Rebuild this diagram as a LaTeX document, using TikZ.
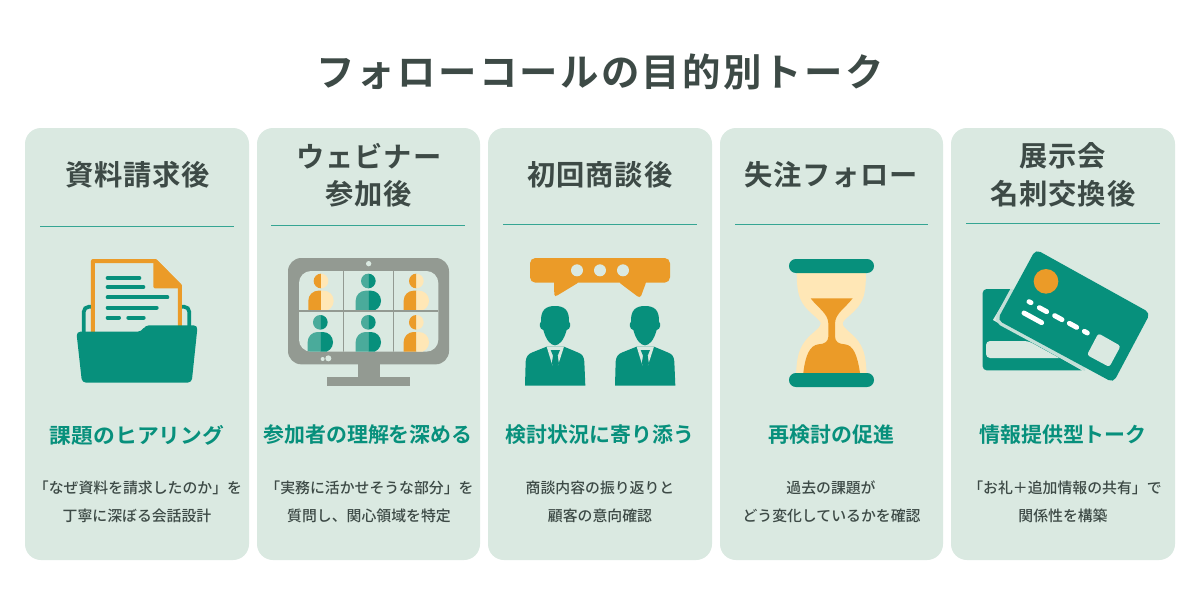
\documentclass[tikz,border=0pt]{standalone}
\usepackage{fontspec}
\newfontfamily\ttlfont[LetterSpace=6]{Noto Sans CJK JP Bold}
\newfontfamily\hdfont[LetterSpace=3]{Noto Sans CJK JP Bold}
\newfontfamily\subfont{Noto Sans CJK JP Bold}
\newfontfamily\bodyfont{Noto Sans CJK JP Medium}
\definecolor{bgcard}{HTML}{DAE9E1}
\definecolor{teal}{HTML}{07907C}
\definecolor{tealL}{HTML}{4AAB9B}
\definecolor{org}{HTML}{EB9B28}
\definecolor{crm}{HTML}{FFE7B6}
\definecolor{gry}{HTML}{939A92}
\definecolor{ink}{HTML}{3D4A46}
\definecolor{edge}{HTML}{C3E0D8}
\definecolor{rulec}{HTML}{35A593}
\tikzset{
  cardbox/.style={fill=bgcard,draw=none,rounded corners=12pt},
  rule/.style={draw=rulec,line width=.75pt},
  ttl/.style={text=ink,font=\ttlfont\fontsize{28.8}{32}\selectfont,anchor=center,inner sep=0},
  hd/.style={text=ink,font=\hdfont\fontsize{21.2}{28}\selectfont,anchor=center,align=center,inner sep=0},
  sub/.style={text=teal,font=\subfont\fontsize{15.7}{20}\selectfont,anchor=center,inner sep=0},
  bd/.style={text=ink,font=\bodyfont\fontsize{11.15}{15}\selectfont,anchor=center,inner sep=0},
  tl/.style={draw=teal,line width=3pt,line cap=round},
  cardash/.style={draw=white,line width=3.7pt,line cap=round},
}
\newcommand{\person}[5]{%
  \begin{scope}
   \clip (#1-60,#2-40) rectangle (#1,#3+61);
   \fill[#4] (#1,#2) circle[radius=22];
   \fill[#4] (#1-38,#3+61) [rounded corners=7.5pt] -- (#1-38,#3) -- (#1+38,#3) [sharp corners] -- (#1+38,#3+61) -- cycle;
  \end{scope}
  \begin{scope}
   \clip (#1,#2-40) rectangle (#1+60,#3+61);
   \fill[#5] (#1,#2) circle[radius=22];
   \fill[#5] (#1-38,#3+61) -- (#1-38,#3) [rounded corners=7.5pt] -- (#1+38,#3) -- (#1+38,#3+61) [sharp corners] -- cycle;
  \end{scope}
}
\newcommand{\suitshape}{%
  \fill[teal] (135,198) .. controls (105,198) and (92,212) .. (93,245)
     .. controls (87,250) and (88,268) .. (100,270)
     .. controls (108,300) and (122,316) .. (135,316)
     .. controls (148,316) and (162,300) .. (170,270)
     .. controls (182,268) and (183,250) .. (177,245)
     .. controls (178,212) and (165,198) .. (135,198) -- cycle;
  \fill[teal] (45,437) -- (47,365) .. controls (48,350) and (55,342) .. (65,338) -- (110,320) -- (162,320) -- (205,338) .. controls (216,342) and (222,350) .. (223,365) -- (226,437) -- cycle;
  \fill[bgcard] (110,320) -- (127,376) -- (135,360) -- (144,376) -- (162,320) -- cycle;
  \fill[teal] (122,330) -- (150,330) -- (143,347) -- (147,372) -- (136,380) -- (125,372) -- (129,347) -- cycle;
}
\begin{document}
\begin{tikzpicture}[x=.75pt,y=-.75pt]
\useasboundingbox (0,0) rectangle (1200,607);
\fill[white] (0,0) rectangle (1200,607);
\node[ttl] (title) at (600,72) {フォローコールの目的別トーク};
% cards
\fill[cardbox] (25,128) rectangle (249,560);
\fill[cardbox] (257,128) rectangle (480,560);
\fill[cardbox] (488,128) rectangle (712,560);
\fill[cardbox] (720,128) rectangle (943,560);
\fill[cardbox] (951,128) rectangle (1175,560);
% rules
\coordinate (r1a) at (40,226); \coordinate (r1b) at (234,226);
\coordinate (r2a) at (271,225.5); \coordinate (r2b) at (465,225.5);
\coordinate (r3a) at (503,224.5); \coordinate (r3b) at (697,224.5);
\coordinate (r4a) at (735,224); \coordinate (r4b) at (928,224);
\coordinate (r5a) at (966,223.5); \coordinate (r5b) at (1160,223.5);
\draw[rule] (r1a) -- (r1b); \draw[rule] (r2a) -- (r2b); \draw[rule] (r3a) -- (r3b); \draw[rule] (r4a) -- (r4b); \draw[rule] (r5a) -- (r5b);
% headings
\node[hd] (h1) at (137.5,175) {資料請求後};
\node[hd] (h2) at (369,175) {ウェビナー\\参加後};
\node[hd] (h3) at (600,175) {初回商談後};
\node[hd] (h4) at (831,175) {失注フォロー};
\node[hd] (h5) at (1063,175) {展示会\\名刺交換後};
% subs
\node[sub,xscale=1.04] (s1) at (137,435) {課題のヒアリング};
\node[sub] (s2) at (368,435) {参加者の理解を深める};
\node[sub] (s3) at (600,435) {検討状況に寄り添う};
\node[sub] (s4) at (831.5,435) {再検討の促進};
\node[sub] (s5) at (1063,435) {情報提供型トーク};
% body
\node[bd] (b1a) at (138,488) {「なぜ資料を請求したのか」を};
\node[bd] (b1b) at (137,516) {丁寧に深ぼる会話設計};
\node[bd] (b2a) at (369.5,488) {「実務に活かせそうな部分」を};
\node[bd] (b2b) at (369,516) {質問し、関心領域を特定};
\node[bd] (b3a) at (600,488) {商談内容の振り返りと};
\node[bd] (b3b) at (600,516) {顧客の意向確認};
\node[bd] (b4a) at (831,488) {過去の課題が};
\node[bd] (b4b) at (831.5,516) {どう変化しているかを確認};
\node[bd] (b5a) at (1065,488) {「お礼＋追加情報の共有」で};
\node[bd] (b5b) at (1063,516) {関係性を構築};
% folder
\begin{scope}[shift={(30,240)},scale=1/3]
 \draw[teal,line width=2.8pt,rounded corners=4pt] (161,285) -- (161,200) -- (478,200) -- (478,285);
 \fill[bgcard] (189,63) -- (376,63) -- (450,138) -- (450,280) -- (189,280) -- cycle;
 \draw[org,line width=3pt,line join=round] (189,280) -- (189,63) -- (376,63) -- (450,138) -- (450,262);
 \fill[org,rounded corners=1pt] (370,60) -- (370,145) -- (456,145) -- (456,135) -- (378,57) -- cycle;
 \draw[tl] (233,114) -- (328,114);
 \draw[tl] (233,141) -- (340,141);
 \draw[tl] (233,172) -- (412,172);
 \draw[tl] (233,203) -- (380,203);
 \draw[tl] (233,233) -- (267,233);
 \draw[tl] (295,233) -- (341,233);
 \fill[teal,rounded corners=3pt] (139,275) -- (335,275) -- (345,256) -- (503,256) -- (485,428) -- (156,428) -- cycle;
\end{scope}
% monitor
\begin{scope}[shift={(270,240)},scale=1/3]
 \fill[gry] (263,370) rectangle (329,412);
 \fill[gry] (171,411) rectangle (420,438);
 \fill[gry,rounded corners=10pt] (54,54) rectangle (537,373);
 \fill[bgcard,rounded corners=9pt] (87,93) rectangle (505,335);
 \begin{scope}
  \clip[rounded corners=9pt] (87,93) rectangle (505,335);
  \person{153}{123}{152}{org}{crm}
  \person{295}{123}{152}{tealL}{teal}
  \person{439}{123}{152}{org}{crm}
  \person{151}{247}{276}{tealL}{teal}
  \person{295}{247}{276}{tealL}{teal}
  \person{439}{247}{276}{org}{crm}
  \draw[gry,line width=.9pt] (221,93) -- (221,335) (371,93) -- (371,335) (87,213) -- (505,213);
 \end{scope}
 \fill[bgcard] (296,71) circle[radius=8];
 \fill[bgcard] (158,357) circle[radius=6];
 \fill[bgcard] (175,355) circle[radius=9];
\end{scope}
% talk
\begin{scope}[shift={(510,240)},scale=1/3]
 \fill[org,rounded corners=4pt] (60,54) rectangle (480,128);
 \fill[org,rounded corners=1pt] (132,120) -- (133,168) -- (139,168) -- (205,128) -- (205,120) -- cycle;
 \fill[org,rounded corners=1pt] (328,120) -- (328,128) -- (385,171) -- (392,171) -- (408,128) -- (408,120) -- cycle;
 \fill[bgcard] (201,91) circle[radius=18] (270,91) circle[radius=18] (339,91) circle[radius=18];
 \suitshape
\end{scope}
\begin{scope}[shift={(600,240)},scale=1/3]
 \suitshape
\end{scope}
% hourglass
\begin{scope}[shift={(770,240)},scale=1/3]
 \fill[crm] (80,90) -- (288,90) .. controls (288,170) and (280,190) .. (240,225) .. controls (225,238) and (218,245) .. (218,250)
   .. controls (218,258) and (225,265) .. (240,278) .. controls (280,312) and (288,340) .. (290,410) -- (78,410)
   .. controls (80,340) and (90,312) .. (130,278) .. controls (145,265) and (152,258) .. (152,250)
   .. controls (152,245) and (145,238) .. (130,225) .. controls (90,190) and (80,170) .. (80,90) -- cycle;
 \fill[org] (122,175) -- (248,175) .. controls (225,205) and (196,220) .. (195,250) -- (195,290)
   .. controls (196,305) and (205,312) .. (225,313) .. controls (250,316) and (262,345) .. (270,399) -- (100,399)
   .. controls (106,345) and (120,316) .. (145,313) .. controls (165,312) and (174,305) .. (175,290) -- (175,250)
   .. controls (174,220) and (145,205) .. (122,175) -- cycle;
 \fill[teal,rounded corners=5.2pt] (57,57) rectangle (312,99);
 \fill[teal,rounded corners=5.2pt] (57,399) rectangle (312,441);
\end{scope}
% cards icon
\begin{scope}[shift={(970,240)},scale=1/3]
 \fill[teal] (125,147) [rounded corners=3pt] -- (38,147) -- (38,391) [sharp corners] -- (335,391) -- (68,240) -- cycle;
 \fill[bgcard,rounded corners=3pt] (48,303) -- (175,303) [sharp corners] -- (268,354) [rounded corners=3pt] -- (48,354) -- cycle;
 \begin{scope}
  \clip (0,147) rectangle (345,391);
  \draw[edge,line width=5pt,rounded corners=4pt] (197,28) -- (541,219) -- (430,428) -- (82,240) -- cycle;
 \end{scope}
 \fill[teal,rounded corners=4pt] (197,28) -- (541,219) -- (430,428) -- (82,240) -- cycle;
 \fill[org] (228,124) circle[radius=37];
 \draw[cardash] (177,185) -- (183,188);
 \draw[cardash] (208,203) -- (230,215);
 \draw[cardash] (254,227) -- (276,239);
 \draw[cardash] (298,250) -- (320,262);
 \draw[cardash] (343,274) -- (352,279);
 \draw[cardash] (162,219) -- (215,248);
 \fill[bgcard,rounded corners=2pt] (385,280) -- (452,318) -- (418,381) -- (351,345) -- cycle;
\end{scope}
\end{tikzpicture}
\end{document}
